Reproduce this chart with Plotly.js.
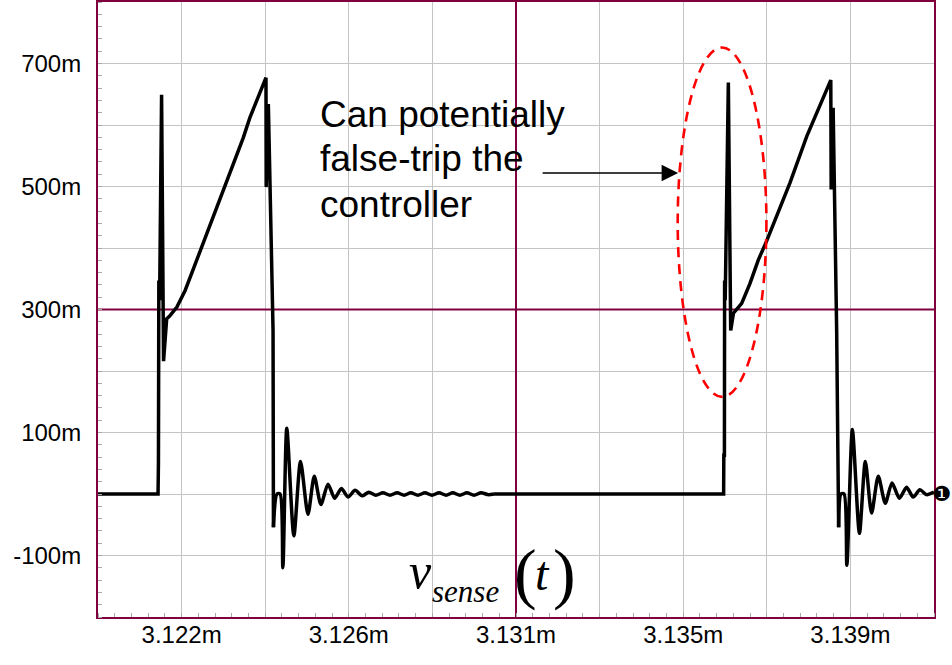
<!DOCTYPE html>
<html>
<head>
<meta charset="utf-8">
<script src="https://cdn.plot.ly/plotly-3.0.1.min.js"></script>
<style>
  html, body { margin: 0; padding: 0; background: #ffffff; }
  #chart { width: 952px; height: 665px; }
</style>
</head>
<body>
<div id="chart"></div>
<script>
// ---- data (time in microseconds, voltage in volts) ----
// first switching pulse: leading-edge spike, ramp, turn-off edge
const pulse1Time = [
  3119.90, 3121.43, 3121.44, 3121.45, 3121.47, 3121.52, 3121.57, 3121.65, 3121.72, 3121.91,
  3122.12, 3122.33, 3122.54, 3122.75, 3122.97, 3123.18, 3123.39, 3123.60, 3123.77, 3123.94,
  3124.18, 3124.185, 3124.24, 3124.36, 3124.37
];
const pulse1V = [
  0.000, 0.000, 0.050, 0.347, 0.315, 0.649, 0.216, 0.285, 0.289, 0.304,
  0.331, 0.366, 0.401, 0.437, 0.472, 0.509, 0.542, 0.579, 0.612, 0.639,
  0.677, 0.499, 0.634, 0.266, -0.054
];
// ringing after first turn-off
const ring1Time = [
  3124.37, 3124.46, 3124.54, 3124.61, 3124.71, 3124.89, 3125.06, 3125.25, 3125.41, 3125.58,
  3125.76, 3125.93, 3126.10, 3126.27, 3126.45, 3126.63, 3126.80, 3126.98, 3127.16, 3127.34,
  3127.52, 3127.70, 3127.87, 3128.05, 3128.23, 3128.41, 3128.59, 3128.77, 3128.94, 3129.12,
  3129.30, 3129.48, 3129.66, 3129.84, 3129.99
];
const ring1V = [
  -0.054, 0.000, 0.000, -0.120, 0.107, -0.068, 0.053, -0.033, 0.029, -0.017,
  0.016, -0.007, 0.009, -0.005, 0.006, -0.003, 0.003, -0.002, 0.002, -0.002,
  0.002, -0.002, 0.002, -0.002, 0.002, -0.002, 0.002, -0.002, 0.002, -0.002,
  0.002, -0.002, 0.002, -0.001, 0.000
];
// idle interval and second switching pulse
const pulse2Time = [
  3129.99, 3135.84, 3135.845, 3135.86, 3135.865, 3135.88, 3135.96, 3136.02, 3136.09, 3136.30,
  3136.51, 3136.72, 3136.94, 3137.53, 3137.96, 3138.30, 3138.57, 3138.58, 3138.63, 3138.72,
  3138.77
];
const pulse2V = [
  0.000, 0.000, 0.063, 0.063, 0.347, 0.315, 0.669, 0.266, 0.294, 0.310,
  0.342, 0.380, 0.412, 0.506, 0.582, 0.634, 0.673, 0.495, 0.628, 0.266,
  -0.054
];
// ringing after second turn-off
const ring2Time = [
  3138.77, 3138.83, 3138.91, 3138.98, 3139.12, 3139.30, 3139.45, 3139.61, 3139.78, 3139.96,
  3140.13, 3140.32, 3140.50, 3140.67, 3140.84, 3141.01, 3141.20
];
const ring2V = [
  -0.054, 0.000, 0.000, -0.116, 0.105, -0.064, 0.053, -0.031, 0.029, -0.015,
  0.018, -0.007, 0.011, -0.005, 0.007, -0.001, 0.003
];
const xTickLabels = ['3.122m', '3.126m', '3.131m', '3.135m', '3.139m'];
const yTickValues = [-0.1, 0.1, 0.3, 0.5, 0.7];
const yTickLabels = ['-100m', '100m', '300m', '500m', '700m'];

// ---- axis grid construction ----
const xStart = 3119.9, xDiv = 2.13, nDiv = 10;
const yStart = -0.2, yDiv = 0.1;
const xEnd = xStart + nDiv * xDiv, yEnd = yStart + nDiv * yDiv;
const xGrid = [], xText = [], yGrid = [], yText = [];
for (let k = 0; k <= nDiv; k++) {
  xGrid.push(+(xStart + k * xDiv).toFixed(4));
  xText.push(k % 2 === 1 ? xTickLabels[(k - 1) / 2] : '');
  const yv = +(yStart + k * yDiv).toFixed(4);
  yGrid.push(yv);
  const idx = yTickValues.findIndex(v => Math.abs(v - yv) < 1e-6);
  yText.push(idx >= 0 ? yTickLabels[idx] : '');
}
const xMid = xStart + 5 * xDiv;
const yMid = yStart + 5 * yDiv;

const maroon = '#80003f';
const gridGray = '#c4c4c4';
const tickFont = { family: 'Liberation Sans, Arial, sans-serif', size: 24, color: '#000000' };

const wave = { color: '#000000', width: 3.5 };
const traces = [
  // centre reference lines of the scope graticule (drawn under the waveform)
  { x: [xMid, xMid], y: [yStart, yEnd], type: 'scatter', mode: 'lines',
    line: { color: maroon, width: 2 }, hoverinfo: 'skip' },
  { x: [xStart, xEnd], y: [yMid, yMid], type: 'scatter', mode: 'lines',
    line: { color: maroon, width: 2 }, hoverinfo: 'skip' },
  { x: pulse1Time, y: pulse1V, type: 'scatter', mode: 'lines', line: wave, hoverinfo: 'skip' },
  { x: ring1Time, y: ring1V, type: 'scatter', mode: 'lines',
    line: Object.assign({ shape: 'spline', smoothing: 0.7 }, wave), hoverinfo: 'skip' },
  { x: pulse2Time, y: pulse2V, type: 'scatter', mode: 'lines', line: wave, hoverinfo: 'skip' },
  { x: ring2Time, y: ring2V, type: 'scatter', mode: 'lines',
    line: Object.assign({ shape: 'spline', smoothing: 0.7 }, wave), hoverinfo: 'skip' }
];

const noteFont = { family: 'Liberation Sans, Arial, sans-serif', size: 37, color: '#000000' };
const serif = 'Liberation Serif, Times New Roman, serif';

function px2paperX(px) { return (px - 98) / 836; }
function px2paperY(py) { return (617 - py) / 615; }

const layout = {
  width: 952, height: 665,
  margin: { l: 98, r: 18, t: 2, b: 48, pad: 0 },
  paper_bgcolor: '#ffffff', plot_bgcolor: '#ffffff',
  showlegend: false,
  xaxis: {
    range: [xStart, xEnd],
    tickmode: 'array', tickvals: xGrid, ticktext: xText,
    ticks: '', showgrid: true, gridcolor: gridGray, gridwidth: 1,
    zeroline: false, showline: true, mirror: true, linecolor: maroon, linewidth: 2,
    tickfont: tickFont, ticklabelstandoff: -5,
    minor: { tickmode: 'linear', tick0: xStart, dtick: xDiv / 5, ticks: 'inside', ticklen: 4,
             tickcolor: '#a8a8a8', tickwidth: 1, showgrid: false },
    fixedrange: true
  },
  yaxis: {
    range: [yStart, yEnd],
    tickmode: 'array', tickvals: yGrid, ticktext: yText,
    ticks: '', showgrid: true, gridcolor: gridGray, gridwidth: 1,
    zeroline: false, showline: true, mirror: true, linecolor: maroon, linewidth: 2,
    tickfont: tickFont, ticklabelstandoff: 10,
    minor: { tickmode: 'linear', tick0: yStart, dtick: yDiv / 5, ticks: 'inside', ticklen: 4,
             tickcolor: '#a8a8a8', tickwidth: 1, showgrid: false },
    fixedrange: true
  },
  shapes: [
    { type: 'circle', layer: 'above', xref: 'x', yref: 'y',
      x0: 3134.67, x1: 3136.93, y0: 0.158, y1: 0.726,
      line: { color: '#ff0000', width: 2.6, dash: '10px,7px' } }
  ],
  annotations: [
    { xref: 'paper', yref: 'paper', x: px2paperX(318), y: px2paperY(114), xanchor: 'left', yanchor: 'middle',
      text: 'Can potentially', showarrow: false, font: noteFont },
    { xref: 'paper', yref: 'paper', x: px2paperX(318), y: px2paperY(159), xanchor: 'left', yanchor: 'middle',
      text: 'false-trip the', showarrow: false, font: noteFont },
    { xref: 'paper', yref: 'paper', x: px2paperX(318), y: px2paperY(204), xanchor: 'left', yanchor: 'middle',
      text: 'controller', showarrow: false, font: noteFont },
    { xref: 'x', yref: 'y', x: 3134.68, y: 0.522, text: '', showarrow: true,
      ax: -137, ay: 0, arrowhead: 2, arrowsize: 2.2, arrowwidth: 1.5, arrowcolor: '#000000', standoff: 0 },
    { xref: 'paper', yref: 'paper', x: px2paperX(407), y: px2paperY(571), xanchor: 'left', yanchor: 'middle',
      text: '<i>v</i>', showarrow: false, font: { family: serif, size: 50, color: '#000000' } },
    { xref: 'paper', yref: 'paper', x: px2paperX(430), y: px2paperY(591), xanchor: 'left', yanchor: 'middle',
      text: '<i>sense</i>', showarrow: false, font: { family: serif, size: 31, color: '#000000' } },
    { xref: 'paper', yref: 'paper', x: px2paperX(512), y: px2paperY(573), xanchor: 'left', yanchor: 'middle',
      text: '(', showarrow: false, font: { family: serif, size: 68, color: '#000000' } },
    { xref: 'paper', yref: 'paper', x: px2paperX(533), y: px2paperY(573), xanchor: 'left', yanchor: 'middle',
      text: '<i>t</i>', showarrow: false, font: { family: serif, size: 48, color: '#000000' } },
    { xref: 'paper', yref: 'paper', x: px2paperX(551), y: px2paperY(573), xanchor: 'left', yanchor: 'middle',
      text: ')', showarrow: false, font: { family: serif, size: 68, color: '#000000' } },
    { xref: 'paper', yref: 'paper', x: px2paperX(941), y: px2paperY(494), xanchor: 'center', yanchor: 'middle',
      text: '\u2776', showarrow: false, font: { family: 'DejaVu Sans, sans-serif', size: 21, color: '#000000' } }
  ]
};

Plotly.newPlot('chart', traces, layout, { staticPlot: true, displayModeBar: false });
</script>
</body>
</html>
